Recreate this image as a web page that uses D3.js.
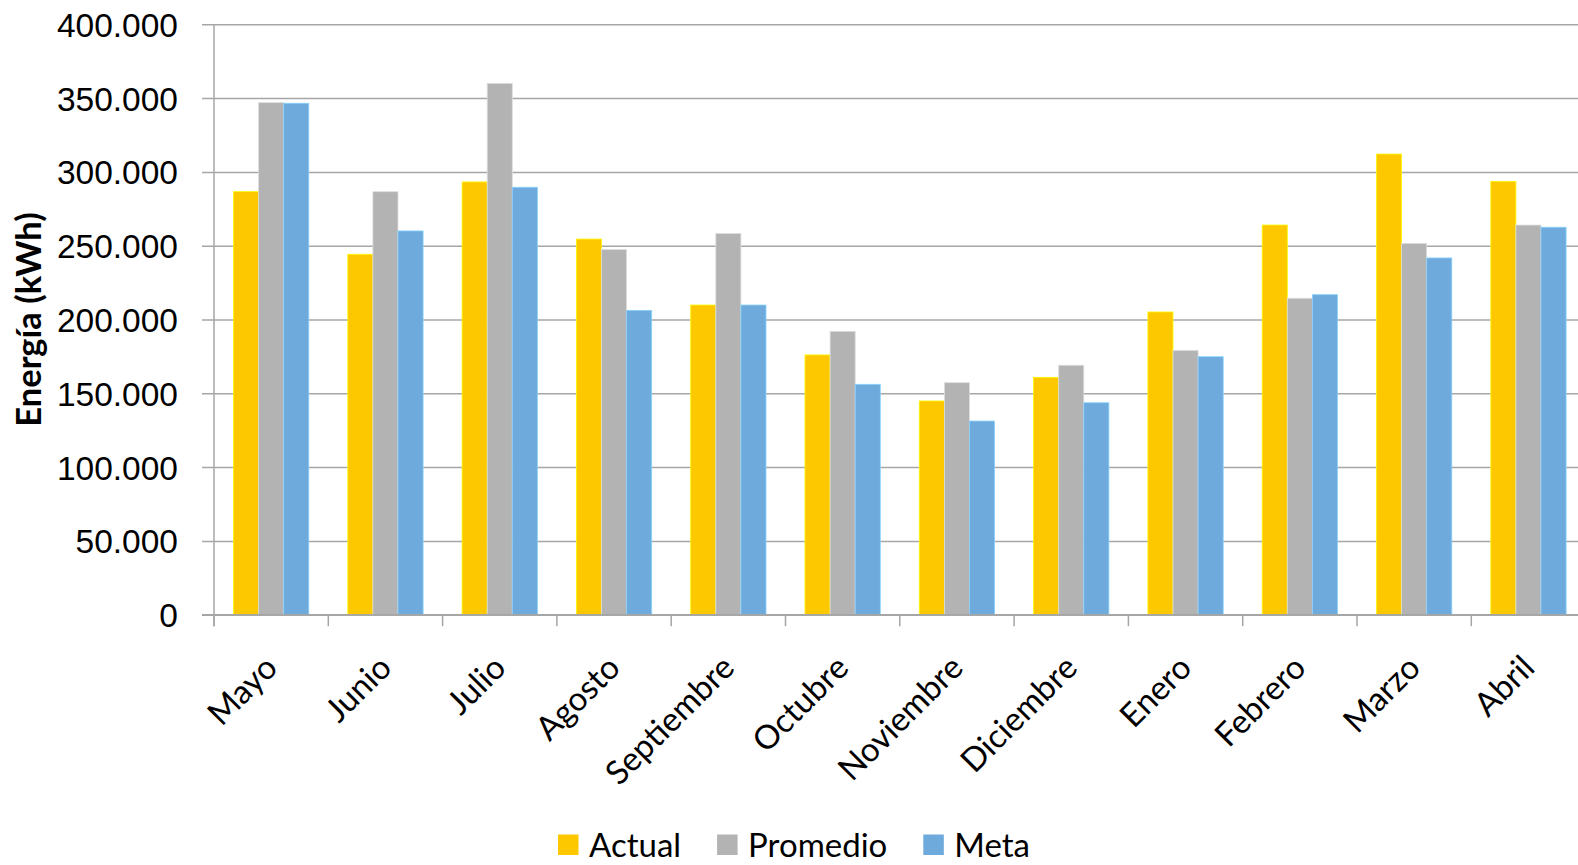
<!DOCTYPE html>
<html>
<head>
<meta charset="utf-8">
<script src="https://cdn.jsdelivr.net/npm/d3@7"></script>
<style>
  html, body { margin: 0; padding: 0; background: #fff; }
  svg { display: block; }
</style>
</head>
<body>
<svg id="chart" width="1578" height="865"></svg>
<script>
// Monthly energy consumption (kWh)
const months = ["Mayo", "Junio", "Julio", "Agosto", "Septiembre", "Octubre",
                "Noviembre", "Diciembre", "Enero", "Febrero", "Marzo", "Abril"];
const seriesNames = ["Actual", "Promedio", "Meta"];
const actual   = [286600, 244200, 293200, 254500, 209800, 176000, 144800, 160800, 205100, 264000, 312100, 293600];
const promedio = [346900, 286600, 360000, 247400, 258300, 192000, 157200, 169000, 179100, 214400, 251600, 264000];
const meta     = [346500, 260000, 289600, 206200, 209800, 156100, 131200, 143600, 174800, 216800, 241700, 262500];
const yTicks   = [0, 50000, 100000, 150000, 200000, 250000, 300000, 350000, 400000];
const colors   = ["#FDC800", "#B3B3B3", "#6EAADB"];

const seriesValues = [actual, promedio, meta];
const rows = months.map((m, i) => ({ month: m, values: seriesValues.map(s => s[i]) }));

const svg = d3.select("#chart");
const plotLeft = 214, plotTop = 24.3, plotBottom = 614.7;
const bandW = 114.3;
const plotRight = plotLeft + bandW * months.length;

const x = d3.scaleBand().domain(months).range([plotLeft, plotRight]).paddingInner(0).paddingOuter(0);
const xs = d3.scaleBand().domain(seriesNames).range([19.5, 19.5 + 75.3]).padding(0);
const y = d3.scaleLinear().domain([0, 400000]).range([plotBottom, plotTop]);

const fmt = v => d3.format(",")(v).replace(/,/g, ".");

// horizontal gridlines with short ticks on the left
const yAxis = d3.axisLeft(y).tickValues(yTicks).tickSize(-(plotRight - plotLeft)).tickFormat(fmt).tickPadding(36);
const gy = svg.append("g").attr("transform", `translate(${plotLeft},0)`).call(yAxis);
gy.select(".domain").remove();
gy.selectAll(".tick line")
  .attr("x1", -12)
  .attr("stroke", "#A6A6A6")
  .attr("stroke-width", 1.5);
gy.selectAll(".tick text")
  .attr("font-family", "'Liberation Sans', Arial, sans-serif")
  .attr("font-size", 33.5)
  .attr("fill", "#000")
  .attr("dy", "0.36em");

// bars
const groups = svg.append("g").selectAll("g.month")
  .data(rows).join("g")
  .attr("transform", d => `translate(${x(d.month)},0)`);
groups.selectAll("rect")
  .data(d => d.values.map((v, i) => ({ key: seriesNames[i], v, i })))
  .join("rect")
  .attr("x", d => xs(d.key))
  .attr("width", xs.bandwidth())
  .attr("y", d => y(d.v))
  .attr("height", d => y(0) - y(d.v))
  .attr("fill", d => colors[d.i])
  .attr("stroke", d => d3.color(colors[d.i]).brighter(0.6))
  .attr("stroke-width", 0.8);

// category axis with boundary ticks
const gx = svg.append("g").attr("transform", `translate(0,${plotBottom})`);
gx.append("line")
  .attr("x1", plotLeft - 12).attr("x2", plotRight)
  .attr("stroke", "#A6A6A6").attr("stroke-width", 1.5);
gx.selectAll("line.tk")
  .data(d3.range(months.length + 1)).join("line")
  .attr("class", "tk")
  .attr("x1", i => plotLeft + i * bandW).attr("x2", i => plotLeft + i * bandW)
  .attr("y1", 0).attr("y2", 11.5)
  .attr("stroke", "#A6A6A6").attr("stroke-width", 1.5);
gx.selectAll("text")
  .data(months).join("text")
  .attr("transform", d => `translate(${x(d) + x.bandwidth() / 2 + 8},${55}) rotate(-45)`)
  .attr("text-anchor", "end")
  .attr("font-family", "Lato, 'Open Sans', sans-serif")
  .attr("font-size", 33)
  .attr("fill", "#000")
  .text(d => d);

// vertical value axis line
svg.append("line")
  .attr("x1", plotLeft).attr("x2", plotLeft)
  .attr("y1", plotTop).attr("y2", plotBottom + 11.5)
  .attr("stroke", "#A6A6A6").attr("stroke-width", 1.5);

// axis title
svg.append("text")
  .attr("transform", `translate(41,${(plotTop + plotBottom) / 2}) rotate(-90)`)
  .attr("text-anchor", "middle")
  .attr("font-family", "Lato, 'Open Sans', sans-serif")
  .attr("font-weight", "bold")
  .attr("font-size", 34.5)
  .attr("fill", "#000")
  .text("Energía (kWh)");

// legend
const legend = svg.append("g").attr("transform", "translate(558,857)");
let lx = 0;
seriesNames.forEach((name, i) => {
  const g = legend.append("g").attr("transform", `translate(${lx},0)`);
  g.append("rect").attr("x", 0).attr("y", -22.5).attr("width", 20.5).attr("height", 20.5).attr("fill", colors[i]);
  const t = g.append("text")
    .attr("x", 31).attr("y", 0)
    .attr("font-family", "Lato, 'Open Sans', sans-serif")
    .attr("font-size", 33)
    .attr("fill", "#000")
    .text(name);
  lx += 31 + t.node().getComputedTextLength() + 36;
});
</script>
</body>
</html>
